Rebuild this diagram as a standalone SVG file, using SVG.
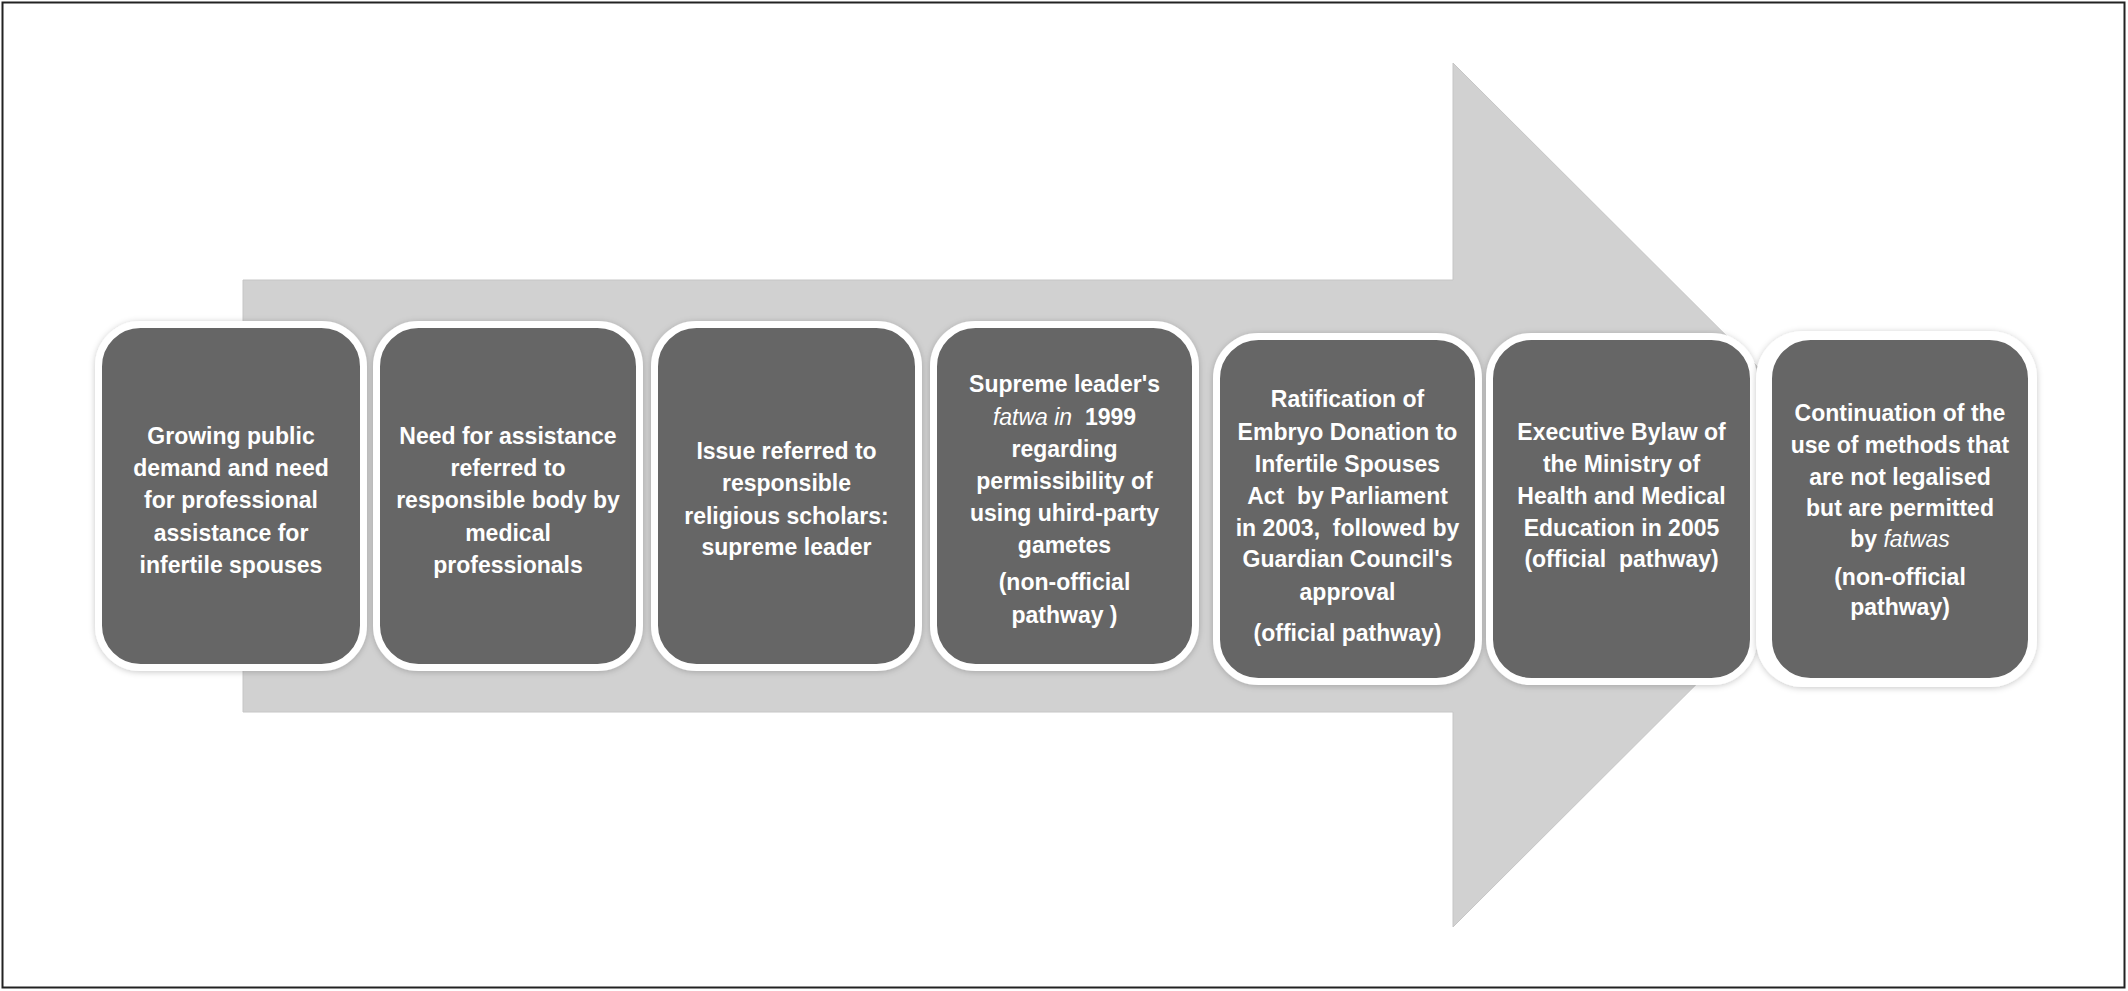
<svg xmlns="http://www.w3.org/2000/svg" width="2128" height="991" viewBox="0 0 2128 991">
<defs>
<filter id="sh" x="-10%" y="-10%" width="120%" height="120%">
<feDropShadow dx="0" dy="1" stdDeviation="3" flood-color="#000" flood-opacity="0.22"/>
</filter>
</defs>
<style>
.box{fill:#666666;stroke:#ffffff;stroke-width:7;filter:url(#sh);}
.t{font-family:"Liberation Sans",Arial,sans-serif;font-weight:bold;font-size:23px;fill:#ffffff;text-anchor:middle;white-space:pre;}
.i{font-style:italic;font-weight:normal;}
</style>
<rect x="0" y="0" width="2128" height="991" fill="#ffffff"/>
<rect x="2.5" y="2.5" width="2122" height="985" fill="none" stroke="#222222" stroke-width="2"/>
<g id="background-arrow">
<polygon points="243,280 1453,280 1453,63 1886,495 1453,927 1453,712 243,712" fill="#d1d1d1" stroke="#c6c6c6" stroke-width="1"/>
</g>
<g id="node1">
<rect class="box" x="98.5" y="324.5" width="265" height="343" rx="42"/>
<text class="t" x="231"><tspan x="231" y="444">Growing public</tspan><tspan x="231" y="476">demand and need</tspan><tspan x="231" y="508">for professional</tspan><tspan x="231" y="541">assistance for</tspan><tspan x="231" y="573">infertile spouses</tspan></text>
</g>
<g id="node2">
<rect class="box" x="376.5" y="324.5" width="263" height="343" rx="42"/>
<text class="t" x="508"><tspan x="508" y="444">Need for assistance</tspan><tspan x="508" y="476">referred to</tspan><tspan x="508" y="508">responsible body by</tspan><tspan x="508" y="541">medical</tspan><tspan x="508" y="573">professionals</tspan></text>
</g>
<g id="node3">
<rect class="box" x="654.5" y="324.5" width="264" height="343" rx="42"/>
<text class="t" x="786.5"><tspan x="786.5" y="459">Issue referred to</tspan><tspan x="786.5" y="491">responsible</tspan><tspan x="786.5" y="524">religious scholars:</tspan><tspan x="786.5" y="555">supreme leader</tspan></text>
</g>
<g id="node4">
<rect class="box" x="933.5" y="324.5" width="262" height="343" rx="42"/>
<text class="t" x="1064.5"><tspan x="1064.5" y="392">Supreme leader's</tspan><tspan x="1064.5" y="425"><tspan class="i">fatwa in</tspan>  1999</tspan><tspan x="1064.5" y="457">regarding</tspan><tspan x="1064.5" y="489">permissibility of</tspan><tspan x="1064.5" y="521">using uhird-party</tspan><tspan x="1064.5" y="553">gametes</tspan><tspan x="1064.5" y="590">(non-official</tspan><tspan x="1064.5" y="623">pathway )</tspan></text>
</g>
<g id="node5">
<rect class="box" x="1216.5" y="336.5" width="262" height="345" rx="42"/>
<text class="t" x="1347.5"><tspan x="1347.5" y="407">Ratification of</tspan><tspan x="1347.5" y="440">Embryo Donation to</tspan><tspan x="1347.5" y="472">Infertile Spouses</tspan><tspan x="1347.5" y="504">Act  by Parliament</tspan><tspan x="1347.5" y="536">in 2003,  followed by</tspan><tspan x="1347.5" y="567">Guardian Council's</tspan><tspan x="1347.5" y="600">approval</tspan><tspan x="1347.5" y="641">(official pathway)</tspan></text>
</g>
<g id="node6">
<rect class="box" x="1489.5" y="336.5" width="264" height="345" rx="42"/>
<text class="t" x="1621.5"><tspan x="1621.5" y="440">Executive Bylaw of</tspan><tspan x="1621.5" y="472">the Ministry of</tspan><tspan x="1621.5" y="504">Health and Medical</tspan><tspan x="1621.5" y="536">Education in 2005</tspan><tspan x="1621.5" y="567">(official  pathway)</tspan></text>
</g>
<g id="node7">
<rect x="1756" y="331" width="281" height="356" rx="47" fill="#ffffff" filter="url(#sh)"/>
<rect class="box" x="1768.5" y="336.5" width="263" height="345" rx="42" style="filter:none"/>
<text class="t" x="1900"><tspan x="1900" y="421">Continuation of the</tspan><tspan x="1900" y="453">use of methods that</tspan><tspan x="1900" y="485">are not legalised</tspan><tspan x="1900" y="516">but are permitted</tspan><tspan x="1900" y="547">by <tspan class="i">fatwas</tspan></tspan><tspan x="1900" y="585">(non-official</tspan><tspan x="1900" y="615">pathway)</tspan></text>
</g>
</svg>
